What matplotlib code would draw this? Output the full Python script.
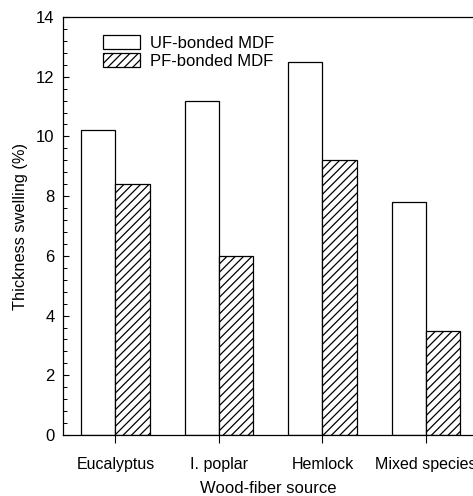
import matplotlib
matplotlib.use("Agg")
import matplotlib.pyplot as plt
import numpy as np
from matplotlib.ticker import MultipleLocator

plt.rcParams['font.family'] = ['Liberation Sans', 'DejaVu Sans']
plt.rcParams['hatch.linewidth'] = 0.9

sources = ["Eucalyptus", "I. poplar", "Hemlock", "Mixed species"]
uf_swelling = [10.2, 11.2, 12.5, 7.8]
pf_swelling = [8.4, 6.0, 9.2, 3.5]
series_labels = ["UF-bonded MDF", "PF-bonded MDF"]

fig = plt.figure(figsize=(4.73, 4.96), dpi=100)
ax = fig.add_axes([63 / 473, 61 / 496, 410 / 473, 418 / 496])

x = np.arange(len(sources))
w = 0.33
ax.bar(x - w / 2, uf_swelling, w, facecolor="white", edgecolor="black",
       linewidth=0.9, label=series_labels[0])
ax.bar(x + w / 2, pf_swelling, w, facecolor="white", edgecolor="black",
       linewidth=0.9, hatch="////", label=series_labels[1])

ax.set_xlim(-0.507, 3.455)
ax.set_ylim(0, 14)
ax.set_xticks(x)
ax.set_xticklabels(sources, fontsize=11.5)
ax.yaxis.set_major_locator(MultipleLocator(2))
ax.yaxis.set_minor_locator(MultipleLocator(0.4))
ax.tick_params(axis='y', which='major', direction='in', length=4, width=0.8,
               labelsize=12, pad=6)
ax.tick_params(axis='y', which='minor', direction='in', length=3, width=0.7)
ax.tick_params(axis='x', direction='out', length=6, width=0.8, pad=10)

for side in ["left", "bottom", "top"]:
    ax.spines[side].set_linewidth(0.9)
ax.spines["right"].set_visible(False)

ax.set_ylabel("Thickness swelling (%)", fontsize=11.8, labelpad=6)
ax.set_xlabel("Wood-fiber source", fontsize=12, labelpad=6)

ax.legend(loc="upper left", bbox_to_anchor=(0.0976, 0.957), frameon=False,
          fontsize=12, handlelength=2.2, handleheight=0.95,
          labelspacing=0.12, handletextpad=0.6, borderaxespad=0,
          borderpad=0)

fig.savefig("out.png", dpi=100)
